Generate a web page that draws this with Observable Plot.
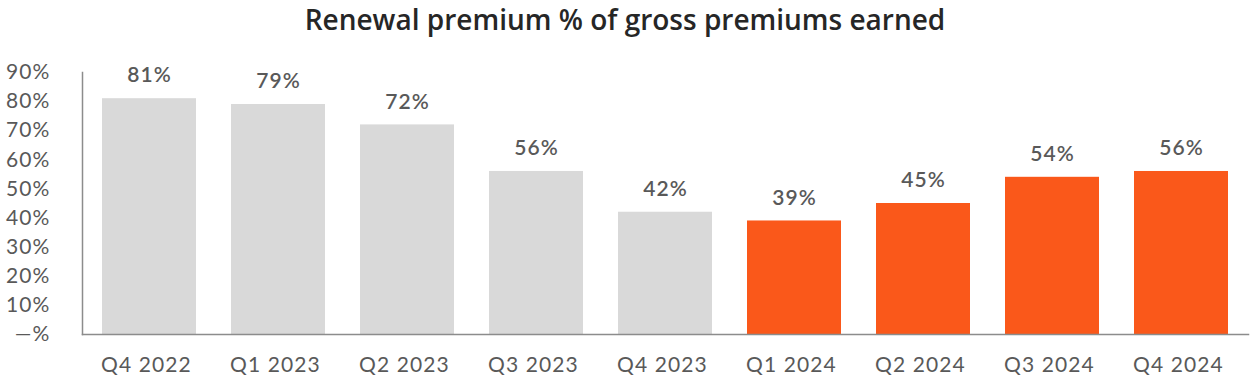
<!DOCTYPE html>
<html>
<head>
<meta charset="utf-8">
<script src="https://cdn.jsdelivr.net/npm/d3@7"></script>
<script src="https://cdn.jsdelivr.net/npm/@observablehq/plot@0.6"></script>
<style>
  html, body { margin: 0; padding: 0; background: #fff; }
  #title { width: 1250px; height: 40px; text-align: center; font-family: "Open Sans", sans-serif; font-weight: 600; font-size: 28px; line-height: 38px; color: #262626; }
  svg { display: block; }
  svg text { letter-spacing: 1.1px; }
</style>
</head>
<body>
<div id="title">Renewal premium % of gross premiums earned</div>
<div id="chart"></div>
<script>
const quarters = ["Q4 2022", "Q1 2023", "Q2 2023", "Q3 2023", "Q4 2023", "Q1 2024", "Q2 2024", "Q3 2024", "Q4 2024"];
const renewalPct = [81, 79, 72, 56, 42, 39, 45, 54, 56];
const yTicks = [0, 10, 20, 30, 40, 50, 60, 70, 80, 90];

const data = quarters.map((q, i) => ({quarter: q, value: renewalPct[i], year: q.slice(3)}));

const chart = Plot.plot({
  width: 1250,
  height: 344,
  marginLeft: 82,
  marginRight: 2,
  marginTop: 32,
  marginBottom: 50,
  style: {fontFamily: "Lato, sans-serif", color: "#595959", background: "#fff"},
  x: {domain: quarters, paddingInner: 0.275, paddingOuter: 0.1375, label: null},
  y: {domain: [0, 90], label: null},
  color: {domain: ["2022", "2023", "2024"], range: ["#d9d9d9", "#d9d9d9", "#fa581a"]},
  marks: [
    Plot.barY(data, {x: "quarter", y: "value", fill: "year"}),
    Plot.text(data, {x: "quarter", y: "value", text: d => d.value + "%", dy: -23, fontSize: 21, fontWeight: 600, fill: "#595959"}),
    Plot.axisY({ticks: yTicks, tickSize: 0, tickPadding: 32, fontSize: 21, tickFormat: d => d === 0 ? "—%" : d + "%"}),
    Plot.axisX({tickSize: 0, tickPadding: 23, fontSize: 21, dx: -3}),
    Plot.frame({anchor: "left", stroke: "#8c8c8c", strokeWidth: 1.5}),
    Plot.frame({anchor: "bottom", stroke: "#8c8c8c", strokeWidth: 1.5})
  ]
});
document.getElementById("chart").appendChild(chart);
</script>
</body>
</html>
